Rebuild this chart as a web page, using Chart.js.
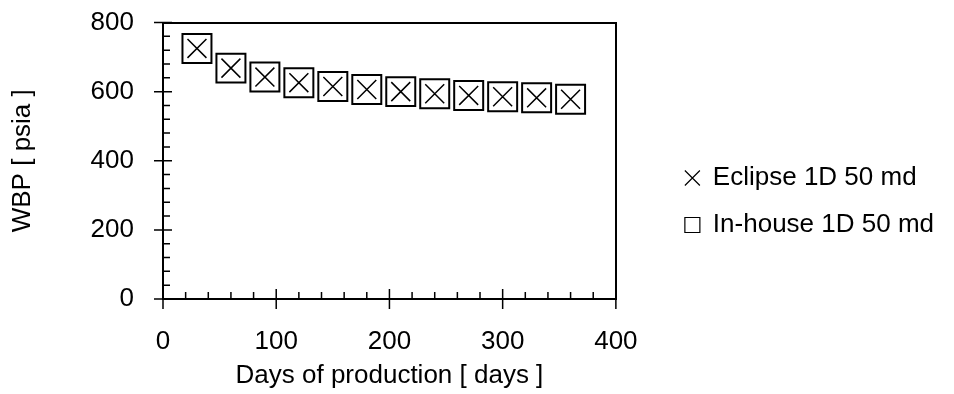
<!DOCTYPE html>
<html>
<head>
<meta charset="utf-8">
<title>WBP vs days of production</title>
<script src="https://cdn.jsdelivr.net/npm/chart.js@4.4.0/dist/chart.umd.min.js"></script>
<style>
  html, body { margin: 0; padding: 0; background: #fff; }
  #wbpChart { display: block; }
</style>
</head>
<body>
<canvas id="wbpChart" width="954" height="394"></canvas>
<script>
// production time, days
const days = [30, 60, 90, 120, 150, 180, 210, 240, 270, 300, 330, 360];
// well block pressure, psia
const eclipseWbp = [725, 668, 642, 626, 615, 606, 600, 594, 589, 585, 582, 578];
const inHouseWbp = [725, 668, 642, 626, 615, 606, 600, 594, 589, 585, 582, 578];

const seriesNames = ["Eclipse 1D 50 md", "In-house 1D 50 md"];
const xTitle = "Days of production [ days ]";
const yTitle = "WBP [ psia ]";

const xRange = [0, 400];
const yRange = [0, 800];
const xMajor = 100, xMinor = 20;
const yMajor = 200, yMinor = 40;

const FONT_SIZE = 26;
Chart.defaults.font.family = "'Liberation Sans', Arial, sans-serif";
Chart.defaults.font.size = FONT_SIZE;
Chart.defaults.color = "#000";

const toPoints = (ys) => days.map((d, i) => ({ x: d, y: ys[i] }));

// excel style tick marks: major ones cross the axis, minor ones sit inside
const axisTicks = {
  id: "axisTicks",
  afterDraw(chart) {
    const { ctx, chartArea, scales } = chart;
    const x = scales.x, y = scales.y;
    ctx.save();
    ctx.strokeStyle = "#000";
    ctx.lineWidth = 1.5;
    ctx.beginPath();
    for (let v = xRange[0]; v <= xRange[1]; v += xMinor) {
      const px = x.getPixelForValue(v);
      const major = v % xMajor === 0;
      ctx.moveTo(px, chartArea.bottom + (major ? 10 : 0));
      ctx.lineTo(px, chartArea.bottom - (major ? 10 : 7));
    }
    for (let v = yRange[0]; v <= yRange[1]; v += yMinor) {
      const py = y.getPixelForValue(v);
      const major = v % yMajor === 0;
      ctx.moveTo(chartArea.left - (major ? 9 : 0), py);
      ctx.lineTo(chartArea.left + (major ? 9 : 7), py);
    }
    ctx.stroke();
    ctx.restore();
  }
};

// hidden tick marks only reserve room between axis and labels
const hiddenGrid = (len) => ({ display: false, drawTicks: true, tickLength: len });

new Chart(document.getElementById("wbpChart"), {
  type: "scatter",
  data: {
    datasets: [
      {
        label: seriesNames[0],
        data: toPoints(eclipseWbp),
        pointStyle: "crossRot",
        pointRadius: 13.4,
        pointBorderWidth: 1.5,
        pointBorderColor: "#000",
        pointBackgroundColor: "transparent",
        borderColor: "#000",
        backgroundColor: "transparent",
        showLine: false
      },
      {
        label: seriesNames[1],
        data: toPoints(inHouseWbp),
        pointStyle: "rect",
        pointRadius: 20.5,
        pointBorderWidth: 2,
        pointBorderColor: "#000",
        pointBackgroundColor: "transparent",
        borderColor: "#000",
        backgroundColor: "transparent",
        showLine: false
      }
    ]
  },
  options: {
    responsive: false,
    animation: false,
    devicePixelRatio: 1,
    layout: { padding: { top: 9, right: 10, bottom: 0, left: 0 } },
    plugins: {
      tooltip: { enabled: false },
      legend: {
        position: "right",
        align: "center",
        maxWidth: 320,
        labels: {
          usePointStyle: true,
          boxWidth: 15,
          boxHeight: 15,
          padding: 21,
          color: "#000",
          font: { size: FONT_SIZE },
          generateLabels(chart) {
            return Chart.defaults.plugins.legend.labels.generateLabels(chart)
              .map(item => ({ ...item, lineWidth: 1.2 }));
          }
        }
      }
    },
    scales: {
      x: {
        type: "linear",
        position: "bottom",
        min: xRange[0],
        max: xRange[1],
        ticks: { stepSize: xMajor, padding: 0, color: "#000", font: { size: FONT_SIZE } },
        grid: hiddenGrid(27),
        border: { display: true, color: "#000", width: 2 },
        title: { display: true, text: xTitle, color: "#000", font: { size: FONT_SIZE }, padding: { top: 0, bottom: 3 } },
        afterFit(scale) { scale.height = 95; }
      },
      y: {
        type: "linear",
        position: "left",
        min: yRange[0],
        max: yRange[1],
        ticks: { stepSize: yMajor, padding: 0, color: "#000", font: { size: FONT_SIZE } },
        grid: hiddenGrid(29),
        border: { display: true, color: "#000", width: 2 },
        title: { display: true, text: yTitle, color: "#000", font: { size: FONT_SIZE }, padding: { top: 7, bottom: 0 } },
        afterFit(scale) { scale.width = 163; }
      },
      // top and right frame lines of the plot box
      x2: {
        type: "linear",
        position: "top",
        min: xRange[0],
        max: xRange[1],
        ticks: { display: false },
        grid: { display: false, drawTicks: false },
        border: { display: true, color: "#000", width: 2 },
        afterFit(scale) { scale.height = 11; }
      },
      y2: {
        type: "linear",
        position: "right",
        min: yRange[0],
        max: yRange[1],
        ticks: { display: false },
        grid: { display: false, drawTicks: false },
        border: { display: true, color: "#000", width: 2 },
        afterFit(scale) { scale.width = 48; }
      }
    }
  },
  plugins: [axisTicks]
});
</script>
</body>
</html>
